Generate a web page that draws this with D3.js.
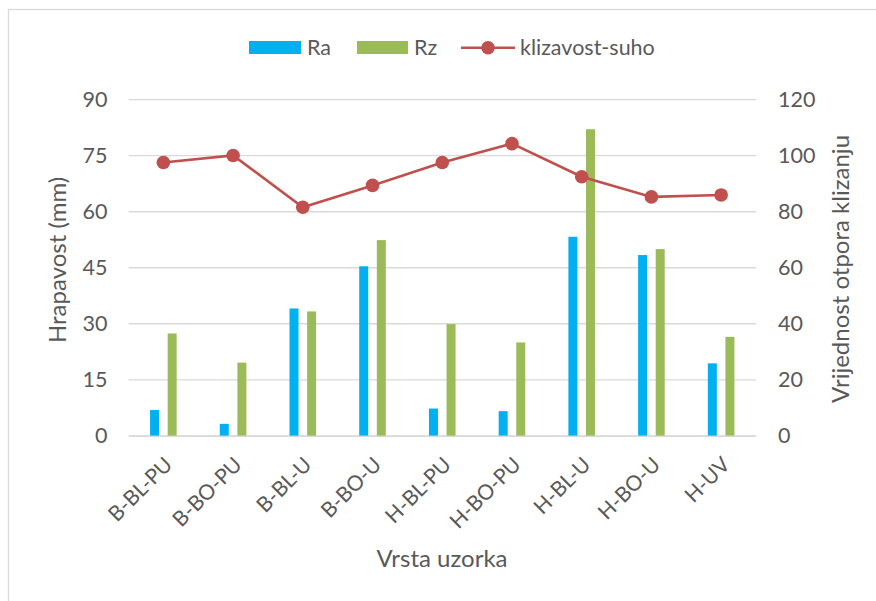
<!DOCTYPE html>
<html>
<head>
<meta charset="utf-8">
<script src="https://cdn.jsdelivr.net/npm/d3@7"></script>
<style>
  body { margin: 0; background: #fff; }
  text { font-family: Lato, "Open Sans", "Liberation Sans", sans-serif; fill: #595959; }
</style>
</head>
<body>
<div id="chart"></div>
<script>
var categories = ["B-BL-PU", "B-BO-PU", "B-BL-U", "B-BO-U", "H-BL-PU", "H-BO-PU", "H-BL-U", "H-BO-U", "H-UV"];
var ra = [6.9, 3.2, 34.1, 45.4, 7.3, 6.6, 53.3, 48.4, 19.4];
var rz = [27.4, 19.6, 33.3, 52.4, 29.9, 25.0, 82.1, 50.0, 26.5];
var klizavost = [97.6, 100.1, 81.6, 89.4, 97.6, 104.3, 92.5, 85.3, 86.0];
var leftTicks = [0, 15, 30, 45, 60, 75, 90];
var rightTicks = [0, 20, 40, 60, 80, 100, 120];

var W = 876, H = 601;
var plot = {left: 128.5, right: 756, top: 99.7, bottom: 435.8};

var svg = d3.select("#chart").append("svg")
  .attr("width", W).attr("height", H);

// outer chart border (only top/left are in view)
svg.append("rect")
  .attr("x", 8.5).attr("y", 9.5)
  .attr("width", W + 20).attr("height", H + 20)
  .attr("fill", "#fff").attr("stroke", "#d9d9d9").attr("stroke-width", 1.3);

var x = d3.scaleBand().domain(categories).range([plot.left, plot.right]);
var yL = d3.scaleLinear().domain([0, 90]).range([plot.bottom, plot.top]);
var yR = d3.scaleLinear().domain([0, 120]).range([plot.bottom, plot.top]);

// gridlines
svg.append("g").selectAll("line").data(leftTicks).join("line")
  .attr("x1", plot.left).attr("x2", plot.right)
  .attr("y1", d => yL(d)).attr("y2", d => yL(d))
  .attr("stroke", "#d9d9d9").attr("stroke-width", 1.3);

// left axis labels
var leftAxis = d3.axisLeft(yL).tickValues(leftTicks).tickSize(0).tickPadding(21);
var gL = svg.append("g").attr("transform", "translate(" + plot.left + ",0)").call(leftAxis);
gL.select(".domain").remove();
gL.selectAll("text").style("font-size", "21.5px").attr("fill", "#595959");

// right axis labels
var rightAxis = d3.axisRight(yR).tickValues(rightTicks).tickSize(0).tickPadding(22);
var gR = svg.append("g").attr("transform", "translate(" + plot.right + ",0)").call(rightAxis);
gR.select(".domain").remove();
gR.selectAll("text").style("font-size", "21.5px").attr("fill", "#595959");

// bars
var barW = 9, off = 8.8;
svg.append("g").selectAll("rect").data(ra).join("rect")
  .attr("x", (d, i) => x(categories[i]) + x.bandwidth() / 2 - off - barW / 2)
  .attr("y", d => yL(d))
  .attr("width", barW)
  .attr("height", d => yL(0) - yL(d))
  .attr("fill", "#00b0f0");
svg.append("g").selectAll("rect").data(rz).join("rect")
  .attr("x", (d, i) => x(categories[i]) + x.bandwidth() / 2 + off - barW / 2)
  .attr("y", d => yL(d))
  .attr("width", barW)
  .attr("height", d => yL(0) - yL(d))
  .attr("fill", "#9bbb59");

// x axis line and labels
var xAxis = d3.axisBottom(x).tickSize(0).tickPadding(0);
var gX = svg.append("g").attr("transform", "translate(0," + plot.bottom + ")").call(xAxis);
gX.select(".domain").attr("stroke", "#d9d9d9").attr("stroke-width", 1.3);
gX.selectAll("text")
  .style("font-size", "21px").attr("fill", "#595959")
  .attr("text-anchor", "end")
  .attr("dy", "0.35em")
  .attr("transform", "translate(5,25) rotate(-45)")
  .attr("y", 0).attr("x", 0);

// line series
var line = d3.line()
  .x((d, i) => x(categories[i]) + x.bandwidth() / 2)
  .y(d => yR(d));
svg.append("path").datum(klizavost)
  .attr("fill", "none").attr("stroke", "#c0504d").attr("stroke-width", 2.6)
  .attr("d", line);
svg.append("g").selectAll("circle").data(klizavost).join("circle")
  .attr("cx", (d, i) => x(categories[i]) + x.bandwidth() / 2)
  .attr("cy", d => yR(d))
  .attr("r", 6.8)
  .attr("fill", "#c0504d");

// axis titles
svg.append("text")
  .attr("transform", "translate(66,260) rotate(-90)")
  .attr("text-anchor", "middle")
  .style("font-size", "24px")
  .text("Hrapavost (mm)");
svg.append("text")
  .attr("transform", "translate(849,269) rotate(-90)")
  .attr("text-anchor", "middle")
  .style("font-size", "24px")
  .text("Vrijednost otpora klizanju");
svg.append("text")
  .attr("x", 442).attr("y", 567)
  .attr("text-anchor", "middle")
  .style("font-size", "24px")
  .text("Vrsta uzorka");

// legend
var lg = svg.append("g");
lg.append("rect").attr("x", 249).attr("y", 41).attr("width", 52).attr("height", 13).attr("fill", "#00b0f0");
lg.append("text").attr("x", 307).attr("y", 55).style("font-size", "21.5px").text("Ra");
lg.append("rect").attr("x", 357).attr("y", 41).attr("width", 51).attr("height", 13).attr("fill", "#9bbb59");
lg.append("text").attr("x", 414).attr("y", 55).style("font-size", "21.5px").text("Rz");
lg.append("line").attr("x1", 461).attr("x2", 515).attr("y1", 47.7).attr("y2", 47.7)
  .attr("stroke", "#c0504d").attr("stroke-width", 2.6);
lg.append("circle").attr("cx", 488).attr("cy", 47.7).attr("r", 6.8).attr("fill", "#c0504d");
lg.append("text").attr("x", 520).attr("y", 55).style("font-size", "21.5px").text("klizavost-suho");
</script>
</body>
</html>
